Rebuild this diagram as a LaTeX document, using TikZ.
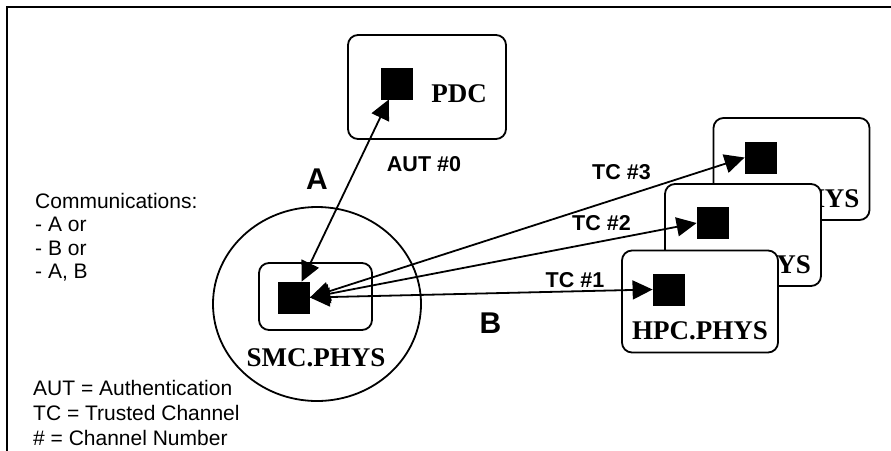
\documentclass[tikz,border=0pt]{standalone}
\usepackage{fontspec}
\setmainfont{Liberation Serif}
\setsansfont{Liberation Sans}
\usetikzlibrary{arrows.meta,shapes.geometric}
\begin{document}
\begin{tikzpicture}[x=1pt,y=-1pt,
  frame/.style={line width=2pt},
  hostbox/.style={draw, fill=white, line width=1.8pt, rounded corners=10pt,
    minimum width=156pt, minimum height=102pt, inner sep=0pt},
  chip/.style={draw, fill=black, minimum size=31pt, inner sep=0pt, line width=0.8pt},
  hostname/.style={font=\fontsize{27}{27}\selectfont\bfseries, inner sep=0pt},
  chan/.style={font=\sffamily\bfseries\fontsize{21.5}{21.5}\selectfont, inner sep=0pt},
  link/.style={line width=1.8pt, {Triangle[length=20pt,width=19pt]}-{Triangle[length=20pt,width=19pt]}},
  bigletter/.style={font=\sffamily\bfseries\fontsize{30}{30}\selectfont, inner sep=0pt},
  legend/.style={font=\sffamily\fontsize{21}{21}\selectfont, anchor=base west, inner sep=0pt}
]
\clip (0,0) rectangle (891,450);
\fill[white] (0,0) rectangle (891,450);
\draw[frame] (7,7) rectangle (960,520);

% SMC
\node[ellipse, draw, line width=1.8pt, minimum width=208pt, minimum height=194pt] (ring) at (317,304) {};
\node[hostbox, minimum width=113pt, minimum height=67pt] (smc) at (315.5,296.5) {};
\node[chip] (smcsq) at (294,297.5) {};
\node[hostname] (smclbl) at (316,358) {SMC.PHYS};

% PDC
\node[hostbox, minimum width=158pt, minimum height=104pt] (pdc) at (427,87) {};
\node[chip] (pdcsq) at (396.5,83.5) {};
\node[hostname] (pdclbl) at (459,94) {PDC};

% HPC stack (back to front)
\node[hostbox] (h3) at (791.5,169) {};
\node[chip] (h3sq) at (760.5,157.5) {};
\node[hostname] (h3lbl) at (791.5,198.5) {HPC.PHYS};

\node[hostbox] (h2) at (743,235) {};
\node[chip] (h2sq) at (712.5,223) {};
\node[hostname] (h2lbl) at (743,264.5) {HPC.PHYS};

\node[hostbox] (h1) at (700,301.5) {};
\node[chip] (h1sq) at (668.5,289.5) {};
\node[hostname] (h1lbl) at (700,331) {HPC.PHYS};

% connectors
\draw[link] (smcsq) -- (pdcsq);
\draw[link] (smcsq.east) -- (h3sq.west);
\draw[link] (smcsq.east) -- (h2sq.west);
\draw[link] (smcsq.east) -- (h1sq.west);

% labels
\node[chan] (aut) at (424,164) {AUT \#0};
\node[chan] (tc3) at (621.5,172.5) {TC \#3};
\node[chan] (tc2) at (601.5,223.5) {TC \#2};
\node[chan] (tc1) at (575,280.5) {TC \#1};
\node[bigletter] (la) at (317,179) {A};
\node[bigletter] (lb) at (490.5,323) {B};

% legend
\node[legend] (c0) at (35,208) {Communications:};
\node[legend] (c1) at (35,231.5) {- A or};
\node[legend] (c2) at (35,255) {- B or};
\node[legend] (c3) at (35,278) {- A, B};
\node[legend] (k1) at (33,395) {AUT = Authentication};
\node[legend] (k2) at (33,420.5) {TC = Trusted Channel};
\node[legend] (k3) at (33,445.5) {\# = Channel Number};
\end{tikzpicture}
\end{document}
